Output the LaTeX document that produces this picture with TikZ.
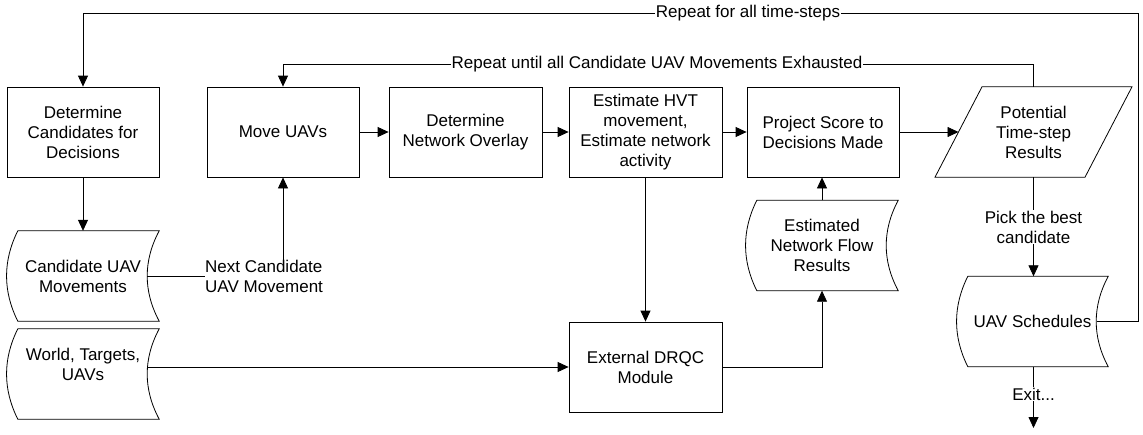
\documentclass[tikz,border=0pt]{standalone}
\usepackage{fontspec}
\setmainfont{Liberation Sans}
\usetikzlibrary{arrows.meta}
\begin{document}
\begin{tikzpicture}[x=1pt,y=-1pt,
  every node/.style={font=\fontsize{17}{20}\selectfont},
  proc/.style={draw, line width=0.8pt, minimum width=152pt, minimum height=90pt, align=center, inner sep=0pt},
  stor/.style={minimum width=152pt, minimum height=90pt, align=center, inner sep=0pt},
  lbl/.style={fill=white, inner sep=1pt, align=center},
  conn/.style={line width=0.8pt, draw=black},
  arr/.style={conn, -{Triangle[length=11pt,width=10pt]}},
]
\useasboundingbox (0,0) rectangle (1143,434);

% process boxes
\node[proc] (detcand) at (83,132) {Determine\\Candidates for\\Decisions};
\node[proc] (move) at (283,132) {Move UAVs};
\node[proc, minimum width=153pt] (overlay) at (465.5,132) {Determine\\Network Overlay};
\node[proc, minimum width=153pt] (hvt) at (645.5,132) {Estimate HVT\\movement,\\Estimate network\\activity};
\node[proc] (proj) at (823,132) {Project Score to\\Decisions Made};
\node[proc, minimum width=153pt] (drqc) at (645.5,367) {External DRQC\\Module};

% parallelogram
\node[stor, minimum width=150pt] (pot) at (1033.5,132) {Potential\\Time-step\\Results};
\draw[conn] ([xshift=-51.5pt]pot.north) -- ([xshift=98.5pt]pot.north)
  -- ([xshift=51.5pt]pot.south) -- ([xshift=-98.5pt]pot.south) -- cycle;

% stored data shapes
\node[stor] (cand) at (83,276) {Candidate UAV\\Movements};
\node[stor] (world) at (83,374) {World, Targets,\\UAVs\\\mbox{}};
\node[stor] (est) at (822,245.5) {Estimated\\Network Flow\\Results};
\node[stor, minimum width=151pt] (sched) at (1032.5,321.5) {UAV Schedules};
\foreach \n in {cand,world,est,sched}{
  \draw[conn] ([xshift=11pt]\n.north west) -- (\n.north east)
    .. controls ([xshift=-16pt,yshift=-30pt]\n.north east) and ([xshift=-16pt,yshift=30pt]\n.south east) .. (\n.south east)
    -- ([xshift=11pt]\n.south west)
    .. controls ([xshift=-4pt,yshift=30pt]\n.south west) and ([xshift=-4pt,yshift=-30pt]\n.north west) .. ([xshift=11pt]\n.north west) -- cycle;
}

% main chain
\draw[arr] (move.east) -- (overlay.west);
\draw[arr] (overlay.east) -- (hvt.west);
\draw[arr] (hvt.east) -- (proj.west);
\coordinate (potin) at (958.5,132);
\draw[arr] (proj.east) -- (potin);

\draw[arr] (detcand.south) -- (cand.north);
\draw[arr] (hvt.south) -- (drqc.north);

% world to DRQC
\coordinate (wr) at (147.5,367);
\draw[arr] (wr) -- (drqc.west);

% DRQC to estimated flow, to project score
\draw[arr] (drqc.east) -| (est.south);
\draw[arr] (est.north) -- (est.north |- proj.south);

% next candidate
\node[lbl, align=left, anchor=west, inner sep=0pt] (next) at (205,276) {Next Candidate\\UAV Movement};
\coordinate (cr) at (147,276);
\draw[conn] (cr) -- (next.west);
\draw[arr] (move.south |- next.north) -- (move.south);

% inner loop
\coordinate (l1) at (1033.5,64);
\draw[arr] (pot.north -| l1) -- (l1) -| (move.north);
\node[lbl] (rep1) at (657,64) {Repeat until all Candidate UAV Movements Exhausted};

% pick best
\node[lbl] (pick) at (1033.5,227) {Pick the best\\candidate};
\draw[conn] (pick.north |- pot.south) -- (pick.north);
\draw[arr] (pick.south) -- (pick.south |- sched.north);

% exit
\node[lbl] (exit) at (1033.5,394) {Exit...};
\coordinate (end) at (1033.5,428);
\draw[conn] (exit.north |- sched.south) -- (exit.north);
\draw[arr] (exit.south) -- (end);

% outer loop
\coordinate (sr) at (1096.5,321.5);
\coordinate (c1) at (1138,321.5);
\coordinate (c2) at (1138,13);
\draw[arr] (sr) -- (c1) -- (c2) -| (detcand.north);
\node[lbl] (rep2) at (748,13) {Repeat for all time-steps};
\end{tikzpicture}
\end{document}
